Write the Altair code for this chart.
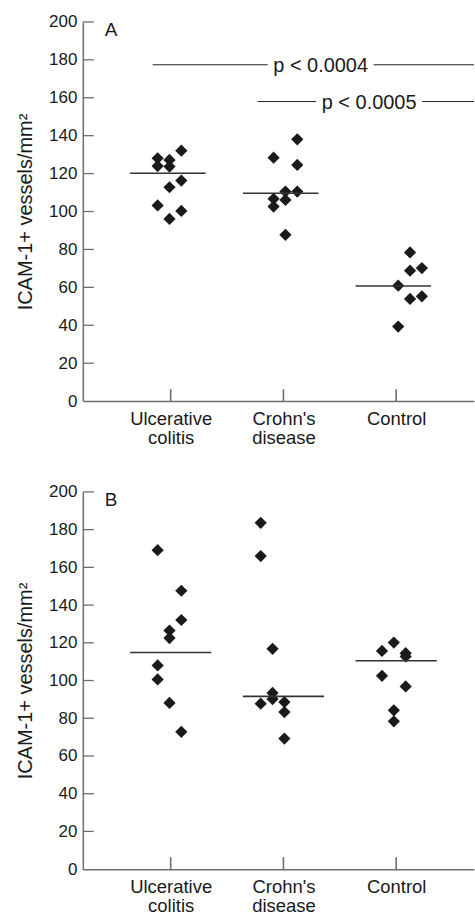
import json
import altair as alt
import pandas as pd

# ---------------- data ----------------
categories = ["Ulcerative colitis", "Crohn's disease", "Control"]
label_lines = [["Ulcerative", "colitis"], ["Crohn's", "disease"], ["Control"]]

# Panel A: values and their dot-plot column (-1 left, 0 centre, 1 right ...)
a_uc = [128.1, 124.0, 103.2, 127.2, 123.7, 112.8, 96.1, 132.1, 116.3, 100.3]
a_uc_col = [-1, -1, -1, 0, 0, 0, 0, 1, 1, 1]
a_cd = [128.4, 106.7, 102.6, 110.5, 106.1, 87.7, 138.1, 124.6, 110.5]
a_cd_col = [-1, -1, -1, 0, 0, 0, 1, 1, 1]
a_ctrl = [60.9, 39.3, 78.4, 68.8, 53.9, 70.2, 55.3]
a_ctrl_col = [0, 0, 1, 1, 1, 2, 2]
a_shift = [-0.1, 0.17, 0.17]
a_medians = [120.2, 109.6, 60.7]

# Panel B
b_uc = [169.1, 108.0, 100.6, 126.5, 122.5, 88.1, 147.6, 132.1, 72.8]
b_uc_col = [-1, -1, -1, 0, 0, 0, 1, 1, 1]
b_cd = [183.6, 166.0, 87.7, 116.8, 93.4, 90.2, 88.6, 83.3, 69.2]
b_cd_col = [-2, -2, -2, -1, -1, -1, 0, 0, 0]
b_ctrl = [115.7, 102.5, 120.1, 84.2, 78.4, 114.5, 112.8, 96.9]
b_ctrl_col = [-1, -1, 0, 0, 0, 1, 1, 1]
b_shift = [-0.1, 0.08, -0.2]
b_medians = [114.9, 91.6, 110.5]

# Significance annotations (panel A): bracket start (x, group units), y, label
sig_start = [0.84, 1.77]
sig_y = [177.4, 158.0]
sig_label = ["p < 0.0004", "p < 0.0005"]
sig_text_x = [2.33, 2.76]

y_ticks = list(range(0, 201, 20))
panel_letters = ["A", "B"]

# ---------------- constants ----------------
X_DOMAIN = [0.221, 3.690]
COL_STEP = 0.105
HALF_GAP = 0.47
FONT = "Liberation Sans"
AXIS_COLOR = "#6e6e6e"
INK = "#1a1a1a"

label_expr = " : ".join(
    f"datum.value == {i} ? [{', '.join(json.dumps(s) for s in lines)}]"
    for i, lines in enumerate(label_lines[:-1], start=1)
) + " : [" + ", ".join(json.dumps(s) for s in label_lines[-1]) + "]"


def points_frame(groups, cols, shifts):
    rows = []
    for gi, (vals, cc) in enumerate(zip(groups, cols), start=1):
        for v, c in zip(vals, cc):
            rows.append({"group": categories[gi - 1], "gi": gi,
                         "col": c, "shift": shifts[gi - 1], "value": v})
    return pd.DataFrame(rows)


def panel(groups, cols, shifts, medians, letter, height, with_sig, med_lo, med_hi):
    pts = points_frame(groups, cols, shifts)
    x_scale = alt.Scale(domain=X_DOMAIN, nice=False, zero=False)
    y_scale = alt.Scale(domain=[0, 200], nice=False)

    x_axis = alt.Axis(values=[1, 2, 3], labelExpr=label_expr, ticks=False, grid=False,
                      domainColor=AXIS_COLOR, domainWidth=1.5, labelFontSize=18.5,
                      labelColor=INK, labelFont=FONT, labelPadding=8, labelLineHeight=19,
                      labelBaseline="top", labelOverlap=False, title=None)
    y_axis = alt.Axis(values=y_ticks, ticks=False, grid=False, domainColor=AXIS_COLOR,
                      domainWidth=1.5, labelFontSize=17, labelColor=INK, labelFont=FONT,
                      labelPadding=6, labelOverlap=False, labelFlush=False,
                      title="ICAM-1+ vessels/mm²", titleFont=FONT,
                      titleFontSize=20, titleFontWeight="normal", titleColor=INK,
                      titleX=-51, titleY=height / 2, titleAngle=-90,
                      titleBaseline="alphabetic", titleAlign="center")

    def X(field):
        return alt.X(field, scale=x_scale, axis=x_axis)

    def Y(field):
        return alt.Y(field, scale=y_scale, axis=y_axis)

    base_pts = alt.Chart(pts).transform_calculate(
        xpos=f"datum.gi + (datum.col + datum.shift) * {COL_STEP}"
    )
    dots = base_pts.mark_point(shape="diamond", filled=True, size=150, color=INK,
                               opacity=1).encode(x=X("xpos:Q"), y=Y("value:Q"))

    med_df = pd.DataFrame({"gi": [1, 2, 3], "median": medians})
    med = alt.Chart(med_df).transform_calculate(
        x0=f"datum.gi - {med_lo}", x1=f"datum.gi + {med_hi}"
    ).mark_rule(color="#333333", strokeWidth=1.6).encode(
        x=X("x0:Q"), x2="x1:Q", y=Y("median:Q"))

    yt = alt.Chart(pd.DataFrame({"t": y_ticks[1:]})).mark_rule(
        color=AXIS_COLOR, strokeWidth=1.3).encode(
        x=alt.value(0), x2=alt.value(11), y=Y("t:Q"))

    xt = alt.Chart(pd.DataFrame({"gi": [1, 2, 3]})).mark_rule(
        color=AXIS_COLOR, strokeWidth=1.6).encode(
        x=X("gi:Q"), y=alt.value(height), y2=alt.value(height - 12))

    let = alt.Chart(pd.DataFrame({"l": [letter], "x": [0.415], "y": [192.5]})).mark_text(
        align="left", baseline="alphabetic", fontSize=19, font=FONT, color=INK).encode(
        x=X("x:Q"), y=Y("y:Q"), text="l:N")

    layers = [dots, med, yt, xt, let]

    if with_sig:
        seg_rows = []
        for s, y, tx in zip(sig_start, sig_y, sig_text_x):
            seg_rows.append({"x0": s, "x1": tx - HALF_GAP, "y": y})
            seg_rows.append({"x0": tx + HALF_GAP, "x1": X_DOMAIN[1], "y": y})
        segs = alt.Chart(pd.DataFrame(seg_rows)).mark_rule(
            color="#222222", strokeWidth=1).encode(
            x=X("x0:Q"), x2="x1:Q", y=Y("y:Q"))
        txt = alt.Chart(pd.DataFrame({"x": sig_text_x, "y": sig_y, "l": sig_label})).mark_text(
            align="center", baseline="middle", fontSize=20, font=FONT, color=INK, dy=1).encode(
            x=X("x:Q"), y=Y("y:Q"), text="l:N")
        layers += [segs, txt]

    return alt.layer(*layers).properties(width=392, height=height)


panel_a = panel([a_uc, a_cd, a_ctrl], [a_uc_col, a_cd_col, a_ctrl_col], a_shift,
                a_medians, panel_letters[0], 380, True, 0.36, 0.31)
panel_b = panel([b_uc, b_cd, b_ctrl], [b_uc_col, b_cd_col, b_ctrl_col], b_shift,
                b_medians, panel_letters[1], 378, False, 0.36, 0.36)

chart = alt.vconcat(panel_a, panel_b, spacing=36).properties(
    padding={"left": 16, "top": 12, "right": 0, "bottom": 0},
    background="white",
).configure_view(stroke=None).configure_concat(spacing=36)

chart.save("out.html", embed_options={"renderer": "svg", "actions": False})
